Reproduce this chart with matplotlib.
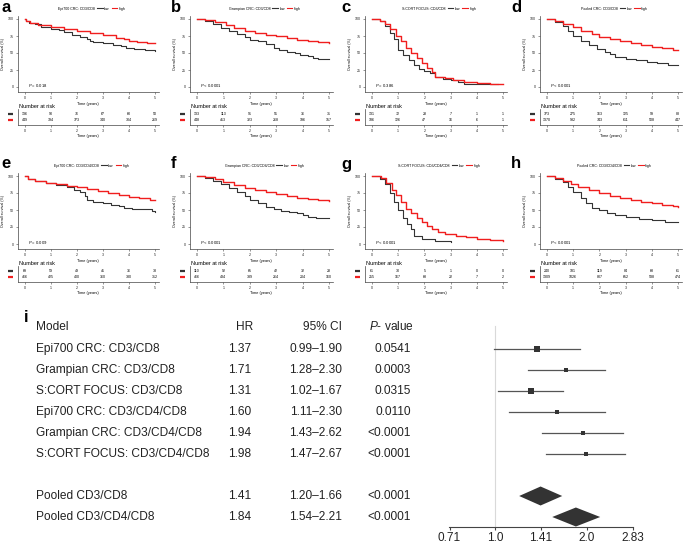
import matplotlib
matplotlib.use('Agg')
import matplotlib.pyplot as plt
from matplotlib.lines import Line2D
from matplotlib.patches import Polygon

plt.rcParams['font.family'] = ['Liberation Sans', 'DejaVu Sans']
plt.rcParams['mathtext.fontset'] = 'custom'
plt.rcParams['mathtext.rm'] = 'Liberation Sans'
plt.rcParams['mathtext.it'] = 'Liberation Sans:italic'

# ---- Kaplan-Meier data (time in years, survival in %) ----
km_titles = ['Epi700 CRC: CD3/CD8', 'Grampian CRC: CD3/CD8', 'S:CORT FOCUS: CD3/CD8',
             'Pooled CRC: CD3/CD8', 'Epi700 CRC: CD3/CD4/CD8', 'Grampian CRC: CD3/CD4/CD8',
             'S:CORT FOCUS: CD3/CD4/CD8', 'Pooled CRC: CD3/CD4/CD8']
km_p = ['= 0.018', '< 0.0001', '= 0.386', '< 0.0001', '= 0.009', '< 0.0001', '< 0.0001', '< 0.0001']
letters = ['a', 'b', 'c', 'd', 'e', 'f', 'g', 'h']
risk_times = [0, 1, 2, 3, 4, 5]

a_low_t = [0, 0.05, 0.15, 0.4, 0.6, 1.0, 1.3, 1.5, 1.8, 2.1, 2.4, 2.5, 2.6, 3.0, 3.4, 3.7, 3.9, 4.2, 4.6, 5.0]
a_low_s = [100, 97, 94, 92, 88, 86, 84, 81, 77, 74, 70, 68, 66, 64, 62, 60, 57, 56, 54, 53]
a_high_t = [0, 0.05, 0.2, 0.5, 1.0, 1.5, 2.0, 2.5, 3.0, 3.5, 3.8, 4.0, 4.3, 4.7, 5.0]
a_high_s = [100, 97, 94, 91, 88, 86, 83, 80, 76, 72, 70, 67, 66, 65, 64]
a_risk_low = [136, 90, 76, 67, 60, 50]
a_risk_high = [449, 394, 373, 340, 304, 269]

b_low_t = [0, 0.3, 0.6, 0.9, 1.2, 1.5, 1.8, 2.0, 2.3, 2.6, 2.9, 3.1, 3.4, 3.7, 3.9, 4.2, 4.4, 4.6, 5.0]
b_low_s = [100, 97, 93, 87, 83, 78, 73, 69, 67, 63, 58, 55, 52, 50, 47, 45, 43, 41, 41]
b_high_t = [0, 0.3, 0.7, 1.1, 1.4, 1.8, 2.2, 2.6, 3.0, 3.4, 3.8, 4.2, 4.6, 5.0]
b_high_s = [100, 98, 95, 91, 87, 83, 80, 77, 75, 72, 69, 67, 66, 64]
b_risk_low = [133, 113, 91, 51, 36, 31]
b_risk_high = [448, 413, 323, 268, 196, 157]

c_low_t = [0, 0.2, 0.3, 0.5, 0.7, 0.85, 1.0, 1.2, 1.4, 1.6, 1.8, 2.0, 2.2, 2.4, 2.7, 3.0, 3.3, 3.5, 4.8]
c_low_s = [100, 100, 97, 90, 80, 70, 55, 47, 40, 32, 27, 24, 20, 15, 12, 10, 8, 4, 4]
c_high_t = [0, 0.2, 0.3, 0.5, 0.7, 0.9, 1.1, 1.3, 1.5, 1.7, 1.9, 2.1, 2.3, 2.4, 2.8, 3.1, 3.5, 4.0, 4.5, 5.0]
c_high_s = [100, 100, 97, 92, 85, 75, 67, 58, 50, 42, 35, 28, 22, 15, 13, 10, 8, 6, 5, 4]
c_risk_low = [131, 72, 28, 7, 1, 1]
c_risk_high = [186, 126, 47, 16, 6, 1]

d_low_t = [0, 0.3, 0.6, 0.8, 1.0, 1.3, 1.6, 1.9, 2.2, 2.4, 2.6, 3.0, 3.4, 3.8, 4.2, 4.6, 5.0]
d_low_s = [100, 96, 90, 83, 75, 68, 62, 56, 52, 48, 44, 41, 39, 37, 35, 33, 32]
d_high_t = [0, 0.3, 0.6, 1.0, 1.3, 1.7, 2.0, 2.4, 2.8, 3.2, 3.6, 4.0, 4.4, 4.8, 5.0]
d_high_s = [100, 97, 93, 88, 83, 78, 74, 71, 68, 65, 62, 59, 57, 55, 54]
d_risk_low = [373, 275, 163, 125, 99, 88]
d_risk_high = [1370, 932, 743, 611, 508, 447]

e_low_t = [0, 0.1, 0.4, 0.8, 1.2, 1.6, 1.9, 2.1, 2.3, 2.4, 2.6, 3.0, 3.3, 3.6, 3.8, 4.1, 4.6, 4.9, 5.0]
e_low_s = [100, 95, 92, 89, 87, 84, 80, 76, 71, 65, 62, 61, 58, 56, 53, 51, 51, 49, 47]
e_high_t = [0, 0.1, 0.4, 0.8, 1.2, 1.6, 2.0, 2.4, 2.8, 3.2, 3.6, 4.0, 4.4, 4.8, 5.0]
e_high_s = [100, 96, 93, 90, 88, 86, 84, 81, 78, 75, 72, 69, 67, 65, 65]
e_risk_low = [69, 59, 49, 41, 36, 33]
e_risk_high = [466, 425, 400, 360, 330, 312]

f_low_t = [0, 0.3, 0.6, 0.9, 1.2, 1.5, 1.8, 2.0, 2.3, 2.6, 2.9, 3.2, 3.5, 3.8, 4.0, 4.2, 4.5, 5.0]
f_low_s = [100, 97, 93, 88, 83, 77, 71, 65, 60, 55, 51, 49, 47, 45, 42, 40, 38, 38]
f_high_t = [0, 0.3, 0.7, 1.0, 1.4, 1.8, 2.2, 2.6, 3.0, 3.4, 3.8, 4.2, 4.6, 5.0]
f_high_s = [100, 98, 95, 91, 87, 83, 80, 77, 74, 71, 68, 66, 64, 63]
f_risk_low = [110, 92, 65, 42, 32, 28]
f_risk_high = [466, 434, 339, 264, 204, 160]

g_low_t = [0, 0.2, 0.3, 0.5, 0.7, 0.85, 1.0, 1.2, 1.35, 1.5, 1.6, 1.9, 2.2, 2.4, 3.0]
g_low_s = [100, 100, 96, 88, 75, 62, 50, 38, 30, 22, 12, 8, 7, 4, 3]
g_high_t = [0, 0.2, 0.35, 0.55, 0.75, 0.9, 1.1, 1.3, 1.5, 1.7, 1.9, 2.1, 2.3, 2.5, 2.8, 3.2, 3.6, 4.0, 4.5, 5.0]
g_high_s = [100, 100, 97, 90, 80, 72, 62, 52, 45, 38, 32, 27, 22, 18, 15, 12, 10, 8, 6, 5]
g_risk_low = [61, 30, 5, 1, 0, 0]
g_risk_high = [255, 167, 68, 22, 7, 2]

h_low_t = [0, 0.3, 0.6, 0.8, 1.0, 1.3, 1.5, 1.7, 2.0, 2.3, 2.6, 3.0, 3.5, 4.0, 4.5, 5.0]
h_low_s = [100, 96, 91, 84, 76, 68, 60, 53, 50, 46, 42, 40, 37, 35, 33, 32]
h_high_t = [0, 0.3, 0.6, 0.9, 1.2, 1.6, 2.0, 2.4, 2.8, 3.2, 3.6, 4.0, 4.4, 4.8, 5.0]
h_high_s = [100, 97, 93, 88, 84, 79, 75, 71, 68, 65, 62, 60, 58, 56, 55]
h_risk_low = [240, 181, 119, 84, 68, 61]
h_risk_high = [1309, 1026, 807, 652, 538, 474]

panels = [
    (a_low_t, a_low_s, a_high_t, a_high_s, a_risk_low, a_risk_high),
    (b_low_t, b_low_s, b_high_t, b_high_s, b_risk_low, b_risk_high),
    (c_low_t, c_low_s, c_high_t, c_high_s, c_risk_low, c_risk_high),
    (d_low_t, d_low_s, d_high_t, d_high_s, d_risk_low, d_risk_high),
    (e_low_t, e_low_s, e_high_t, e_high_s, e_risk_low, e_risk_high),
    (f_low_t, f_low_s, f_high_t, f_high_s, f_risk_low, f_risk_high),
    (g_low_t, g_low_s, g_high_t, g_high_s, g_risk_low, g_risk_high),
    (h_low_t, h_low_s, h_high_t, h_high_s, h_risk_low, h_risk_high),
]

# ---- forest plot data ----
models = ['Epi700 CRC: CD3/CD8', 'Grampian CRC: CD3/CD8', 'S:CORT FOCUS: CD3/CD8',
          'Epi700 CRC: CD3/CD4/CD8', 'Grampian CRC: CD3/CD4/CD8', 'S:CORT FOCUS: CD3/CD4/CD8']
hr = [1.37, 1.71, 1.31, 1.60, 1.94, 1.98]
ci_lo = [0.99, 1.28, 1.02, 1.11, 1.43, 1.47]
ci_hi = [1.90, 2.30, 1.67, 2.30, 2.62, 2.67]
pvals = ['0.0541', '0.0003', '0.0315', '0.0110', '<0.0001', '<0.0001']
pooled = ['Pooled CD3/CD8', 'Pooled CD3/CD4/CD8']
pooled_hr = [1.41, 1.84]
pooled_lo = [1.20, 1.54]
pooled_hi = [1.66, 2.21]
pooled_p = ['<0.0001', '<0.0001']
hr_ticks = [0.71, 1.0, 1.41, 2.0, 2.83]

W, H = 685, 544
fig = plt.figure(figsize=(6.85, 5.44), dpi=100)


def rect(x0, y0, x1, y1):
    return [x0 / W, 1 - y1 / H, (x1 - x0) / W, (y1 - y0) / H]


BLACK = '#333333'
RED = '#f01e1e'
col_x0 = [25, 197, 372, 547]
col_x5 = [155, 329, 503, 678]
row_y100 = [19, 176]
row_risk = [109, 266]
lab_x = [1, 171, 341, 511]
lab_y = [8, 164]
XMIN, XMAX = -0.28, 5.15
YMIN, YMAX = -8, 104

for i, (lt, ls, ht, hs, rl, rh) in enumerate(panels):
    r, c = divmod(i, 4)
    k = (col_x5[c] - col_x0[c]) / 5
    px_left = col_x0[c] + XMIN * k
    px_right = col_x0[c] + XMAX * k
    y100 = row_y100[r]
    ax = fig.add_axes(rect(px_left, y100 - (YMAX - 100) * 0.68, px_right, y100 + (100 - YMIN) * 0.68))
    ax.step(lt, ls, where='post', color=BLACK, lw=0.8)
    ax.step(ht, hs, where='post', color=RED, lw=1.0)
    ax.set_xlim(XMIN, XMAX)
    ax.set_ylim(YMIN, YMAX)
    ax.set_xticks(risk_times)
    ax.set_yticks([0, 25, 50, 75, 100])
    for s in ['top', 'right']:
        ax.spines[s].set_visible(False)
    for s in ['left', 'bottom']:
        ax.spines[s].set_linewidth(0.5)
        ax.spines[s].set_color('#444444')
    ax.tick_params(labelsize=2.6, length=1.5, width=0.4, pad=1.2, colors='#444444', labelcolor='#222222')
    ax.set_xlabel('Time (years)', fontsize=2.8, labelpad=1)
    ax.set_ylabel('Overall survival (%)', fontsize=2.6, labelpad=2)
    ax.text(0.1, 2, r'$\it{P}$ ' + km_p[i], fontsize=3, va='center', ha='left')
    handles = [Line2D([], [], alpha=0), Line2D([], [], color=BLACK, lw=0.8),
               Line2D([], [], color=RED, lw=0.8)]
    ax.legend(handles, [km_titles[i], 'low', 'high'], ncol=3, fontsize=2.6, frameon=False,
              loc='center', bbox_to_anchor=(0.5, 1.1), handlelength=1.5,
              handletextpad=0.4, columnspacing=0.6, borderpad=0)
    fig.text(lab_x[c] / W, 1 - lab_y[r] / H, letters[i], fontsize=12, fontweight='bold',
             ha='left', va='center')

    # number at risk table
    rt = row_risk[r]
    rx = fig.add_axes(rect(px_left, rt, px_right, rt + 16))
    rx.set_xlim(XMIN, XMAX)
    rx.set_ylim(3, 0)
    for t, n1, n2 in zip(risk_times, rl, rh):
        rx.text(t, 1, str(n1), fontsize=2.6, ha='center', va='center')
        rx.text(t, 2, str(n2), fontsize=2.6, ha='center', va='center')
    rx.plot([-0.07, -0.035], [1, 1], color=BLACK, lw=1.6, solid_capstyle='butt',
            transform=rx.get_yaxis_transform(), clip_on=False)
    rx.plot([-0.07, -0.035], [2, 2], color=RED, lw=1.6, solid_capstyle='butt',
            transform=rx.get_yaxis_transform(), clip_on=False)
    rx.set_xticks(risk_times)
    rx.set_yticks([])
    for s in ['top', 'right']:
        rx.spines[s].set_visible(False)
    for s in ['left', 'bottom']:
        rx.spines[s].set_linewidth(0.5)
        rx.spines[s].set_color('#444444')
    rx.tick_params(labelsize=2.6, length=1.5, width=0.4, pad=1.2, colors='#444444', labelcolor='#222222')
    rx.set_xlabel('Time (years)', fontsize=2.8, labelpad=1)
    rx.text(0.01, 1.02, 'Number at risk', fontsize=4, transform=rx.transAxes, ha='left', va='bottom')

# ---- panel i: forest plot ----
fig.text(24 / W, 1 - 318 / H, 'i', fontsize=12, fontweight='bold', ha='left', va='center')


def ftext(x, y, s, ha):
    fig.text(x / W, 1 - y / H, s, fontsize=8.6, ha=ha, va='center', color='#222222')


ftext(36, 327, 'Model', 'left')
ftext(253, 327, 'HR', 'right')
ftext(342, 327, '95% CI', 'right')
ftext(369, 327, r'$\it{P}$- value', 'left')

fx = fig.add_axes(rect(449, 322, 633, 527))
fx.set_xscale('log', base=2)
fx.set_xlim(2 ** -0.5, 2 ** 1.5)
fx.set_ylim(527, 322)
fx.axvline(1.0, color='#d9d9d9', lw=0.8, ymin=0, ymax=0.98)

box_ms = [3.8, 3.3, 5.0, 3.0, 3.0, 3.0]
for j in range(len(models)):
    y = 349 + 21 * j
    ftext(36, y, models[j], 'left')
    ftext(251, y, f'{hr[j]:.2f}', 'right')
    ftext(342, y, f'{ci_lo[j]:.2f}\u2013{ci_hi[j]:.2f}', 'right')
    ftext(411, y, pvals[j], 'right')
    fx.plot([ci_lo[j], ci_hi[j]], [y, y], color='#555555', lw=0.9)
    fx.plot(hr[j], y, marker='s', ms=box_ms[j], color=BLACK, mew=0)

for j in range(len(pooled)):
    y = 496 + 21 * j
    ftext(36, y, pooled[j], 'left')
    ftext(251, y, f'{pooled_hr[j]:.2f}', 'right')
    ftext(342, y, f'{pooled_lo[j]:.2f}\u2013{pooled_hi[j]:.2f}', 'right')
    ftext(411, y, pooled_p[j], 'right')
    fx.add_patch(Polygon([(pooled_lo[j], y), (pooled_hr[j], y - 9.5), (pooled_hi[j], y),
                          (pooled_hr[j], y + 9.5)], closed=True, color=BLACK, lw=0))

fx.set_xticks(hr_ticks)
fx.set_xticklabels([str(v) for v in hr_ticks])
fx.xaxis.set_minor_locator(matplotlib.ticker.NullLocator())
fx.set_yticks([])
for s in ['top', 'right', 'left']:
    fx.spines[s].set_visible(False)
fx.spines['bottom'].set_linewidth(0.8)
fx.spines['bottom'].set_color('#444444')
fx.tick_params(axis='x', labelsize=8.5, length=2.5, width=0.8, pad=0.8, colors='#444444', labelcolor='#222222')

fig.savefig('out.png', dpi=100)
